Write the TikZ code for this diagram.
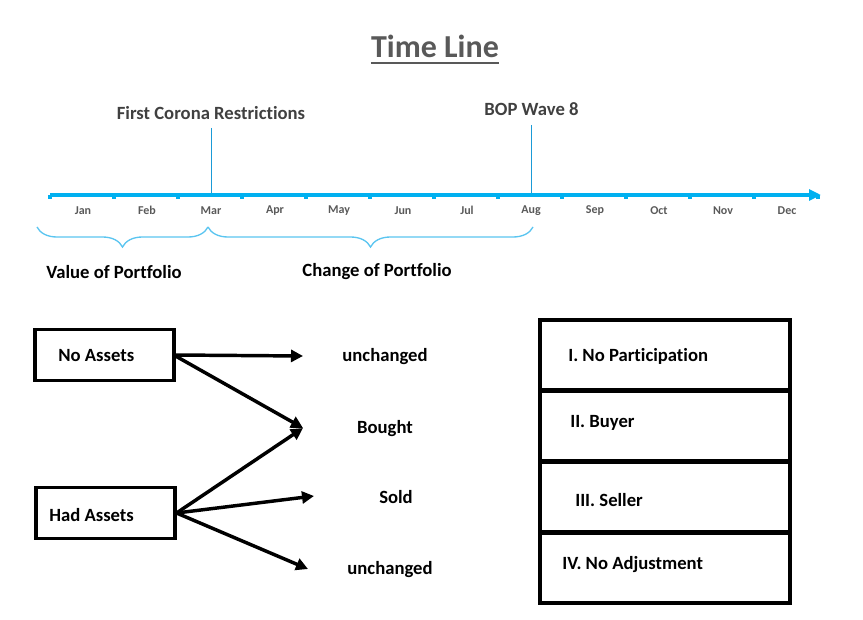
\documentclass[tikz,border=0pt]{standalone}
\usepackage{fontspec}
\setmainfont{Carlito}[Ligatures=NoCommon]
\usetikzlibrary{decorations.pathreplacing,arrows.meta}
\definecolor{tlblue}{HTML}{00B0F0}
\definecolor{markblue}{HTML}{1B9BD7}
\definecolor{braceblue}{HTML}{5BC5F0}
\definecolor{darkgrey}{HTML}{404040}
\definecolor{titlegrey}{HTML}{595959}
\tikzset{
  monthlabel/.style={font=\fontsize{9}{10}\selectfont\bfseries, text=titlegrey, inner sep=0pt},
  eventlabel/.style={font=\fontsize{14}{16}\selectfont\bfseries, text=darkgrey, inner sep=0pt},
  marker/.style={draw=markblue, line width=0.75pt},
  bracestyle/.style={draw=braceblue, line width=1pt, decorate, decoration={brace, mirror, amplitude=15pt}},
  phaselabel/.style={font=\fontsize{14}{16}\selectfont\bfseries, inner sep=0pt},
  srcbox/.style={draw, line width=2.3pt, minimum width=104.25pt, minimum height=38.25pt, inner sep=0pt},
  catbox/.style={draw, line width=2.3pt, minimum width=187.5pt, minimum height=52.5pt, inner sep=0pt},
  boxtext/.style={font=\fontsize{14}{16}\selectfont\bfseries, inner sep=0pt, anchor=west},
  outcome/.style={font=\fontsize{14}{16}\selectfont\bfseries, inner sep=0pt},
  flow/.style={line width=2.6pt, -{Triangle[length=9pt,width=9pt]}},
}
\begin{document}
\begin{tikzpicture}[x=0.75pt,y=-0.75pt]
\useasboundingbox (0,0) rectangle (863,620);
% Title
\node[font=\fontsize{24}{28}\selectfont\bfseries, text=titlegrey, inner sep=0pt] (title) at (435,46) {Time Line};
\draw[titlegrey, line width=1.5pt] ([yshift=-4pt]title.south west) -- ([yshift=-4pt]title.south east);
% Timeline
\coordinate (tlstart) at (50,195);
\coordinate (tlend) at (821,195);
\draw[tlblue, line width=3pt, -{Triangle[length=9pt,width=8.25pt]}] (tlstart) -- (tlend);
\foreach \i in {0,...,12} {
  \fill[tlblue] ({50+64*\i-1.6},195) rectangle ({50+64*\i+1.6},199.5);
}
\foreach \m [count=\i from 0] in {Jan,Feb,Mar,Apr,May,Jun,Jul,Aug,Sep,Oct,Nov,Dec} {
  \node[monthlabel] (m\i) at ({83+64*\i},210.5) {\m};
}
% Event markers
\coordinate (mar) at (211,193);
\coordinate (aug) at (531.5,193);
\node[eventlabel] (corona) at (211,113) {First Corona Restrictions};
\node[eventlabel] (bop) at (531.5,109) {BOP Wave 8};
\coordinate (coronaline) at (211,128);
\coordinate (bopline) at (531.5,125);
\draw[marker] (coronaline) -- (mar);
\draw[marker] (bopline) -- (aug);
% Braces
\coordinate (b1a) at (37,227);
\coordinate (b1b) at (208,227);
\coordinate (b2a) at (208,227);
\coordinate (b2b) at (533,227);
\draw[bracestyle] (b1a) -- (b1b);
\draw[bracestyle] (b2a) -- (b2b);
\node[phaselabel] (value) at (114,272) {Value of Portfolio};
\node[phaselabel] (change) at (377,272) {Change of Portfolio};
% Source boxes
\node[srcbox] (noassets) at (104.5,355) {};
\node[boxtext] at (58,356) {No Assets};
\node[srcbox] (hadassets) at (105.5,513) {};
\node[boxtext] at (49,515) {Had Assets};
% Outcomes
\node[outcome] (unch1) at (385,357) {unchanged};
\node[outcome] (bought) at (385,429) {Bought};
\node[outcome] (sold) at (396,497) {Sold};
\node[outcome] (unch2) at (390,570) {unchanged};
\coordinate (t1) at (303,356);
\coordinate (t2) at (303,428);
\coordinate (t3) at (314,496);
\coordinate (t4) at (308,569);
\draw[flow] (noassets.east) -- (t1);
\draw[flow] ([yshift=-0.75pt]noassets.east) -- (t2);
\draw[flow] (hadassets.east) -- (t2);
\draw[flow] (hadassets.east) -- (t3);
\draw[flow] (hadassets.east) -- (t4);
% Category boxes
\node[catbox] (c1) at (665,355) {};
\node[catbox] (c2) at (665,426) {};
\node[catbox] (c3) at (665,497) {};
\node[catbox] (c4) at (665,568) {};
\node[boxtext] at (568,356) {I. No Participation};
\node[boxtext] at (570,423) {II. Buyer};
\node[boxtext] at (575,500) {III. Seller};
\node[boxtext] at (562,565) {IV. No Adjustment};
\end{tikzpicture}
\end{document}
